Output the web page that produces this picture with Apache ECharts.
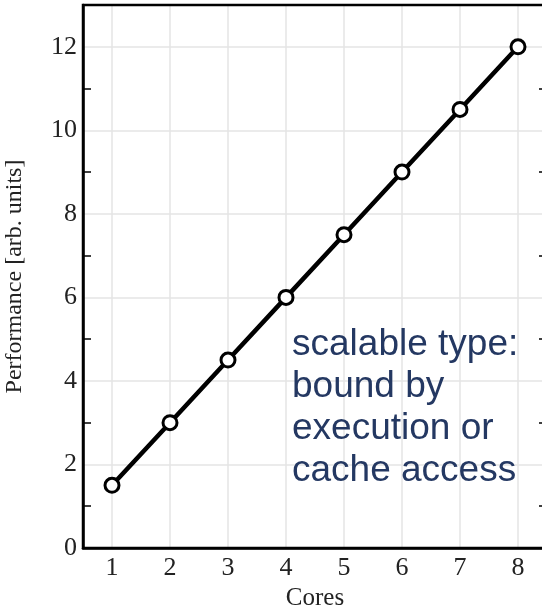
<!DOCTYPE html>
<html>
<head>
<meta charset="utf-8">
<script src="https://cdn.jsdelivr.net/npm/echarts@6/dist/echarts.min.js"></script>
<style>
  html, body { margin: 0; padding: 0; background: #fff; }
  #chart { width: 542px; height: 608px; }
</style>
</head>
<body>
<div id="chart"></div>
<script>
// data
var cores = [1, 2, 3, 4, 5, 6, 7, 8];
var performance = [1.5, 3, 4.5, 6, 7.5, 9, 10.5, 12];
var minorTickValues = [1, 3, 5, 7, 9, 11];
var noteLines = ["scalable type:", "bound by", "execution or", "cache access"];

var chart = echarts.init(document.getElementById("chart"));

var serif = "Liberation Serif";
var points = cores.map(function (c, i) { return [c, performance[i]]; });

var option = {
  animation: false,
  grid: {
    left: 83,
    top: 5,
    bottom: 60,
    right: -5,
    containLabel: false,
    outerBoundsMode: "none",
    show: true,
    borderColor: "#000",
    borderWidth: 2.5,
    backgroundColor: "transparent",
    z: 3
  },
  xAxis: {
    type: "value",
    min: 0.5,
    max: 8.5,
    splitNumber: 8,
    name: "Cores",
    nameLocation: "middle",
    nameGap: 32,
    nameTextStyle: { fontFamily: serif, fontSize: 25, color: "#222" },
    axisLine: { lineStyle: { color: "#000", width: 2.5 } },
    axisTick: { show: false },
    axisLabel: {
      showMinLabel: false,
      showMaxLabel: false,
      margin: 7,
      fontFamily: serif,
      fontSize: 26,
      color: "#222",
      formatter: function (v) { return v % 1 === 0 ? String(v) : ""; }
    },
    splitLine: {
      show: true,
      showMinLine: false,
      showMaxLine: false,
      lineStyle: { color: "#e4e4e4", width: 1.5 }
    }
  },
  yAxis: [
    {
      type: "value",
      min: 0,
      max: 13,
      interval: 2,
      name: "Performance [arb. units]",
      nameLocation: "middle",
      nameGap: 56,
      nameTextStyle: { fontFamily: serif, fontSize: 24, color: "#222" },
      axisLine: { show: true, lineStyle: { color: "#000", width: 2.5 } },
      axisTick: { show: false },
      axisLabel: {
        showMaxLabel: false,
        margin: 6,
        fontFamily: serif,
        fontSize: 26,
        color: "#222"
      },
      splitLine: {
        show: true,
        showMinLine: false,
        showMaxLine: false,
        lineStyle: { color: "#e4e4e4", width: 1.5 }
      }
    },
    {
      // odd-value ticks on the left
      type: "value",
      position: "left",
      min: 0,
      max: 13,
      axisLine: { show: false },
      axisLabel: { show: false },
      splitLine: { show: false },
      axisTick: {
        show: true,
        inside: true,
        length: 8,
        customValues: minorTickValues,
        lineStyle: { color: "#000", width: 1.5 }
      }
    },
    {
      // odd-value ticks on the right
      type: "value",
      position: "right",
      min: 0,
      max: 13,
      axisLine: { show: true, lineStyle: { color: "#000", width: 2.5 } },
      axisLabel: { show: false },
      splitLine: { show: false },
      axisTick: {
        show: true,
        inside: true,
        length: 8,
        customValues: minorTickValues,
        lineStyle: { color: "#000", width: 1.5 }
      }
    }
  ],
  series: [
    {
      type: "line",
      data: points,
      yAxisIndex: 0,
      symbol: "circle",
      symbolSize: 14,
      showAllSymbol: true,
      lineStyle: { color: "#000", width: 4.5 },
      itemStyle: { color: "#fff", borderColor: "#000", borderWidth: 3 },
      z: 5
    }
  ],
  graphic: [
    {
      type: "text",
      left: 292,
      top: 324,
      z: 10,
      style: {
        text: noteLines.join("\n"),
        fontFamily: "Liberation Sans",
        fontSize: 37,
        lineHeight: 42,
        fill: "#243862"
      }
    }
  ]
};

chart.setOption(option);
</script>
</body>
</html>
